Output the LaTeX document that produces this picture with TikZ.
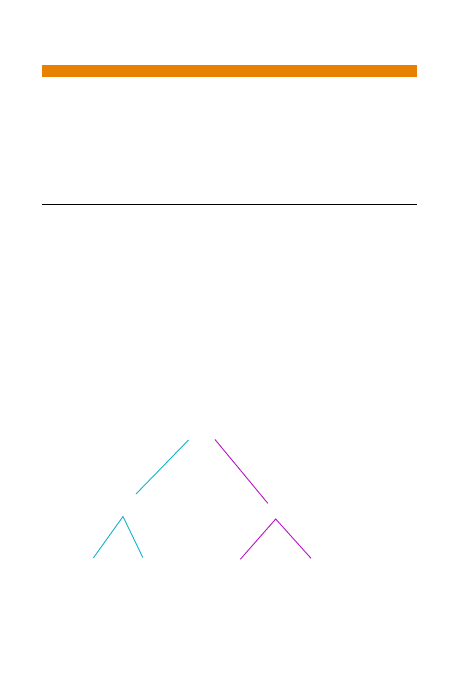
\documentclass[tikz,border=0pt]{standalone}
\usepackage{tikz}
\usetikzlibrary{positioning}
\definecolor{barorange}{RGB}{232,128,4}
\definecolor{treecyan}{RGB}{20,178,200}
\definecolor{treemagenta}{RGB}{184,20,200}
\tikzset{
    bar/.style = {fill=barorange,draw=none},
    rule/.style = {draw=black,line width=1pt},
    edgec/.style = {treecyan,line width=0.9pt}, % left branch
    edgem/.style = {treemagenta,line width=0.9pt}, % right branch
}

\begin{document}
\begin{tikzpicture}[x=1pt,y=-1pt]
  \useasboundingbox (0,0) rectangle (453,680);

  \fill[bar] (42,65) rectangle (416.5,76.5);

  \coordinate (rl) at (42,204.3);
  \coordinate (rr) at (416.5,204.3);
  \draw[rule] (rl) -- (rr);

  % upper branches
  \coordinate (c1) at (188.5,440);
  \coordinate (c2) at (136,494);
  \coordinate (m1) at (215,439.5);
  \coordinate (m2) at (267.8,503.3);
  \draw[edgec] (c1) -- (c2);
  \draw[edgem] (m1) -- (m2);

  % lower subtrees
  \coordinate (ca) at (123,516.5);
  \coordinate (cl) at (93.3,558);
  \coordinate (cr) at (142.8,557.5);
  \coordinate (ma) at (275.7,519);
  \coordinate (ml) at (240.3,559.3);
  \coordinate (mr) at (311,558.3);
  \draw[edgec] (cl) -- (ca) -- (cr);
  \draw[edgem] (ml) -- (ma) -- (mr);

\end{tikzpicture}
\end{document}
